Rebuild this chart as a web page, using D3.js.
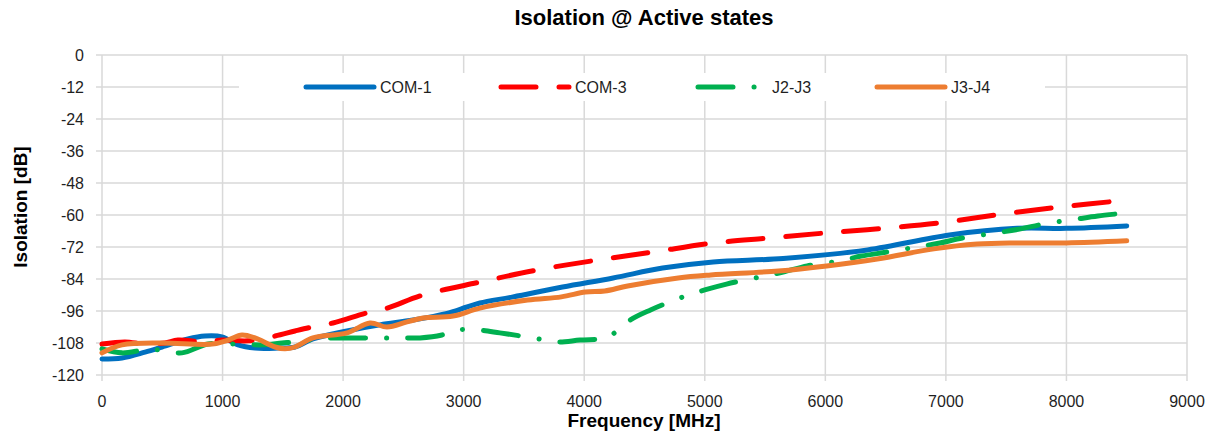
<!DOCTYPE html>
<html>
<head>
<meta charset="utf-8">
<script src="https://cdn.jsdelivr.net/npm/d3@7"></script>
<style>
  html, body { margin: 0; padding: 0; background: #fff; }
  svg { display: block; font-family: "Liberation Sans", Arial, sans-serif; }
</style>
</head>
<body>
<svg id="chart" width="1210" height="442"></svg>
<script>
// ---- data ----
const chartTitle = "Isolation @ Active states";
const xTitle = "Frequency [MHz]";
const yTitle = "Isolation [dB]";
const xTicks = [0, 1000, 2000, 3000, 4000, 5000, 6000, 7000, 8000, 9000];
const yTicks = [0, -12, -24, -36, -48, -60, -72, -84, -96, -108, -120];
const seriesNames = ["COM-1", "COM-3", "J2-J3", "J3-J4"];

const com1Freq = [0, 166, 357, 498, 713, 854, 995, 1128, 1269, 1460, 1601, 1750, 2032, 2306, 2580, 2862, 3028, 3135, 3410, 3820, 4240, 4650, 5070, 5650, 6350, 7030, 7590, 8000, 8500];
const com1Db   = [-114.0, -113.6, -111.4, -109.5, -106.5, -105.4, -105.7, -108.7, -109.9, -109.9, -109.5, -106.5, -103.5, -101.2, -99.4, -96.9, -94.5, -93.0, -90.7, -87.0, -83.6, -79.9, -77.6, -76.3, -73.1, -67.5, -65.0, -65.0, -64.1];

const com3Freq = [0, 191, 357, 522, 630, 854, 995, 1211, 1435, 1601, 1742, 1916, 2198, 2367, 2663, 3140, 3610, 4110, 4570, 5070, 5540, 6010, 6510, 7010, 7470, 7950, 8500];
const com3Db   = [-108.4, -107.6, -108.4, -108.0, -106.9, -107.6, -106.9, -107.2, -105.4, -103.5, -102.0, -100.5, -96.7, -94.9, -90.0, -85.1, -80.6, -76.9, -73.9, -70.5, -68.6, -66.7, -64.9, -62.6, -59.6, -57.0, -54.4];

const j23Freq = [0, 166, 357, 481, 663, 879, 1128, 1327, 1493, 1601, 1830, 2032, 2290, 2472, 2638, 2820, 2944, 3110, 3300, 3575, 3775, 3965, 4190, 4240, 4380, 4550, 4820, 5000, 5180, 5460, 5650, 5850, 6120, 6300, 6510, 6760, 6950, 7140, 7420, 7620, 7810, 8090, 8260, 8500];
const j23Db   = [-110.2, -111.7, -110.6, -110.6, -111.7, -108.4, -108.4, -108.7, -108.0, -107.6, -106.3, -106.1, -106.1, -106.1, -106.1, -105.0, -103.1, -103.1, -104.2, -106.1, -107.6, -106.9, -106.1, -104.6, -99.4, -95.6, -90.7, -88.1, -85.9, -83.2, -81.4, -79.1, -77.2, -75.4, -73.9, -72.0, -70.5, -68.6, -66.7, -65.2, -63.4, -61.5, -60.4, -59.2];

const j34Freq = [0, 166, 498, 912, 1045, 1161, 1269, 1435, 1518, 1601, 1750, 2032, 2223, 2364, 2530, 2663, 2912, 3135, 3530, 3810, 4010, 4170, 4360, 4780, 5050, 5610, 6010, 6430, 6900, 7260, 7590, 8000, 8500];
const j34Db   = [-111.7, -108.7, -108.0, -108.4, -106.9, -105.0, -106.1, -109.5, -110.2, -109.5, -106.1, -104.2, -100.5, -102.0, -100.1, -98.6, -97.9, -94.9, -91.9, -90.7, -88.9, -88.5, -86.6, -83.6, -82.5, -81.0, -79.1, -76.5, -72.7, -70.9, -70.5, -70.5, -69.7];

// ---- styling ----
const colors = ["#0070C0", "#FF0000", "#00B050", "#ED7D31"];
const dashes = [null, "35,23", "35,21,0.1,21", null];
const lineW = 5;
const textCol = "#1f1f1f";

const series = [
  {name: seriesNames[0], f: com1Freq, v: com1Db},
  {name: seriesNames[1], f: com3Freq, v: com3Db},
  {name: seriesNames[2], f: j23Freq, v: j23Db},
  {name: seriesNames[3], f: j34Freq, v: j34Db}
];

const svg = d3.select("#chart");
const L = 102, R = 1187, T = 55, B = 375;
const x = d3.scaleLinear().domain([0, 9000]).range([L, R]);
const y = d3.scaleLinear().domain([-120, 0]).range([B, T]);
const grid = "#D9D9D9";

// gridlines
svg.append("g").selectAll("line").data(yTicks).join("line")
  .attr("x1", L - 6).attr("x2", R).attr("y1", d => y(d)).attr("y2", d => y(d))
  .attr("stroke", grid).attr("stroke-width", 1.5);
svg.append("g").selectAll("line").data(xTicks).join("line")
  .attr("x1", d => x(d)).attr("x2", d => x(d)).attr("y1", T).attr("y2", B + 6)
  .attr("stroke", grid).attr("stroke-width", 1.5);

// tick labels
svg.append("g").selectAll("text").data(yTicks).join("text")
  .attr("x", 84).attr("y", d => y(d) + 5.5)
  .attr("text-anchor", "end").attr("font-size", 16).attr("fill", textCol)
  .text(d => d);
svg.append("g").selectAll("text").data(xTicks).join("text")
  .attr("x", d => x(d)).attr("y", 407)
  .attr("text-anchor", "middle").attr("font-size", 16).attr("fill", textCol)
  .text(d => d);

// titles
svg.append("text").attr("x", 644).attr("y", 25).attr("text-anchor", "middle")
  .attr("font-size", 22).attr("font-weight", "bold").attr("fill", "#000").text(chartTitle);
svg.append("text").attr("x", 644).attr("y", 427).attr("text-anchor", "middle")
  .attr("font-size", 19).attr("font-weight", "bold").attr("fill", "#000").text(xTitle);
svg.append("text").attr("transform", "translate(27,207) rotate(-90)").attr("text-anchor", "middle")
  .attr("font-size", 19).attr("font-weight", "bold").attr("fill", "#000").text(yTitle);

// lines
const line = d3.line().curve(d3.curveCatmullRom.alpha(0.5));
series.forEach((s, i) => {
  const pts = s.f.map((f, k) => [x(f), y(s.v[k])]);
  svg.append("path").attr("d", line(pts))
    .attr("fill", "none").attr("stroke", colors[i]).attr("stroke-width", lineW)
    .attr("stroke-linecap", "round").attr("stroke-linejoin", "round")
    .attr("stroke-dasharray", dashes[i]);
});

// legend
svg.append("rect").attr("x", 239).attr("y", 73).attr("width", 806).attr("height", 28).attr("fill", "#fff");
const legX = [306, 501, 698, 877];
series.forEach((s, i) => {
  const g = svg.append("g");
  g.append("line").attr("x1", legX[i]).attr("x2", legX[i] + 68).attr("y1", 87).attr("y2", 87)
    .attr("stroke", colors[i]).attr("stroke-width", lineW).attr("stroke-linecap", "round")
    .attr("stroke-dasharray", dashes[i]);
  g.append("text").attr("x", legX[i] + 74).attr("y", 93).attr("font-size", 16).attr("fill", textCol).text(s.name);
});
</script>
</body>
</html>
